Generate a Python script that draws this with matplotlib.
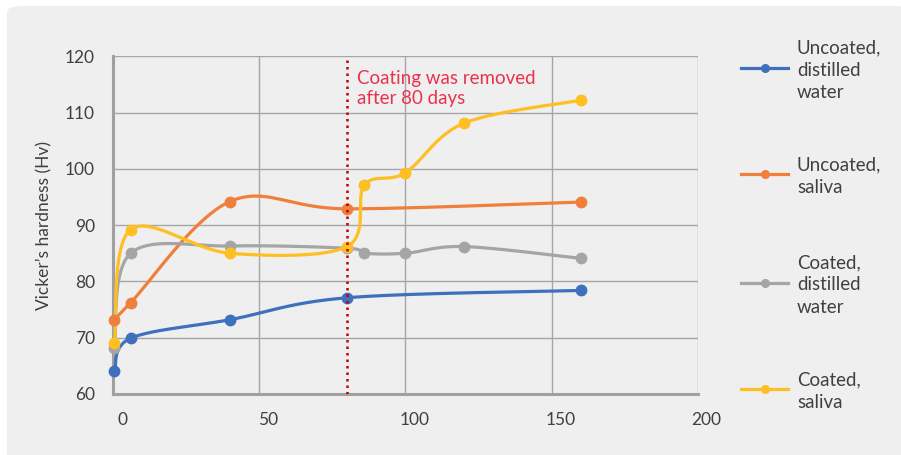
import numpy as np
import matplotlib
matplotlib.use("Agg")
import matplotlib.pyplot as plt
from matplotlib.patches import FancyBboxPatch
from matplotlib.lines import Line2D
import matplotlib.transforms as mtransforms

# ---- data ----
days_uncoated = [0.5, 6, 40, 80, 160]
uncoated_water = [64.0, 69.9, 73.2, 77.1, 78.4]
uncoated_saliva = [73.2, 76.2, 94.2, 92.9, 94.1]
days_coated = [0.5, 6, 40, 80, 86, 100, 120, 160]
coated_water = [68.2, 85.0, 86.3, 85.9, 85.0, 85.0, 86.2, 84.1]
coated_saliva = [69.1, 89.2, 85.0, 86.2, 97.1, 99.3, 108.1, 112.2]

series_names = ["Uncoated,\ndistilled\nwater", "Uncoated,\nsaliva",
                "Coated,\ndistilled\nwater", "Coated,\nsaliva"]
series_colors = ["#3f70bd", "#ef7f3a", "#a5a5a5", "#fdbf22"]
x_ticks = [0, 50, 100, 150, 200]
y_ticks = [60, 70, 80, 90, 100, 110, 120]
removal_day = 80
annotation = "Coating was removed\nafter 80 days"
y_label = "Vicker\u2019s hardness (Hv)"

plt.rcParams['font.family'] = ['Lato', 'DejaVu Sans']
TXT = "#404040"
W, H = 901, 455
fig = plt.figure(figsize=(W / 100, H / 100), dpi=100, facecolor="white")

# rounded background panel
bg = FancyBboxPatch((7 / W, -0.1), 1.0, (H - 6) / H + 0.1,
                    boxstyle="round,pad=0,rounding_size=0.015",
                    transform=fig.transFigure, facecolor="#efefef",
                    edgecolor="none", zorder=-10)
fig.patches.append(bg)

ax = fig.add_axes([113 / W, (H - 394) / H, (697.7 - 113) / W, (394 - 56.3) / H])
ax.set_zorder(2)
ax.set_facecolor("none")
ax.set_xlim(0, 200)
ax.set_ylim(60, 120)
ax.set_xticks(x_ticks)
ax.set_yticks(y_ticks)
ax.grid(True, color="#a6a6a6", lw=1.0, zorder=1)
ax.set_axisbelow(True)
for s in ["top", "right"]:
    ax.spines[s].set_visible(False)
for s in ["left", "bottom"]:
    ax.spines[s].set_color("#a0a0a0")
    ax.spines[s].set_linewidth(2.2)
ax.tick_params(length=0, labelsize=12.5, colors=TXT)
ax.tick_params(axis="y", pad=13)
ax.tick_params(axis="x", pad=13)
offset = mtransforms.ScaledTranslation(9 / 100, 0, fig.dpi_scale_trans)
for lab in ax.get_xticklabels():
    lab.set_transform(lab.get_transform() + offset)
ax.set_ylabel(y_label, fontsize=12.5, color=TXT, labelpad=9)


def smooth(xs, ys, n=40):
    # Excel-style smoothed line: Catmull-Rom Bezier in display space
    pts = ax.transData.transform(np.column_stack([xs, ys]))
    out = []
    m = len(pts)
    for i in range(m - 1):
        p0 = pts[i - 1] if i > 0 else pts[i]
        p1 = pts[i]
        p2 = pts[i + 1]
        p3 = pts[i + 2] if i + 2 < m else pts[i + 1]
        c1 = p1 + (p2 - p0) / 6.0
        c2 = p2 - (p3 - p1) / 6.0
        t = np.linspace(0, 1, n)[:, None]
        seg = ((1 - t) ** 3) * p1 + 3 * ((1 - t) ** 2) * t * c1 + 3 * (1 - t) * t ** 2 * c2 + t ** 3 * p2
        out.append(seg if i == 0 else seg[1:])
    out = np.vstack(out)
    d = ax.transData.inverted().transform(out)
    return d[:, 0], d[:, 1]


data = [(days_uncoated, uncoated_water), (days_uncoated, uncoated_saliva),
        (days_coated, coated_water), (days_coated, coated_saliva)]
for (xs, ys), c in zip(data, series_colors):
    sx, sy = smooth(xs, ys)
    ax.plot(sx, sy, color=c, lw=2.3, zorder=3, solid_capstyle="round", clip_on=False)
    ax.plot(xs, ys, "o", color=c, ms=7.5, zorder=4, clip_on=False)

# removal line
ax.axvline(removal_day, color="#c00000", lw=1.8, ls=(0, (1, 1.6)), zorder=5)
ax.text(removal_day + 3.5, 117.5, annotation, color="#e8334f", fontsize=13.5,
        va="top", ha="left", linespacing=1.2, zorder=6)

# legend (manual, spread vertically like the original)
leg_y = [68, 174, 283, 389]
for name, c, yy in zip(series_names, series_colors, leg_y):
    yf = 1 - yy / H
    fig.add_artist(Line2D([741 / W, 788 / W], [yf, yf], color=c, lw=2.3,
                          transform=fig.transFigure))
    fig.add_artist(Line2D([764.5 / W], [yf], color=c, marker="o", ms=5.5,
                          transform=fig.transFigure))
    fig.text(797 / W, yf - 2 / H, name, fontsize=13.5, color=TXT, va="center",
             ha="left", linespacing=1.4)

fig.savefig("out.png", dpi=100, facecolor="white")
